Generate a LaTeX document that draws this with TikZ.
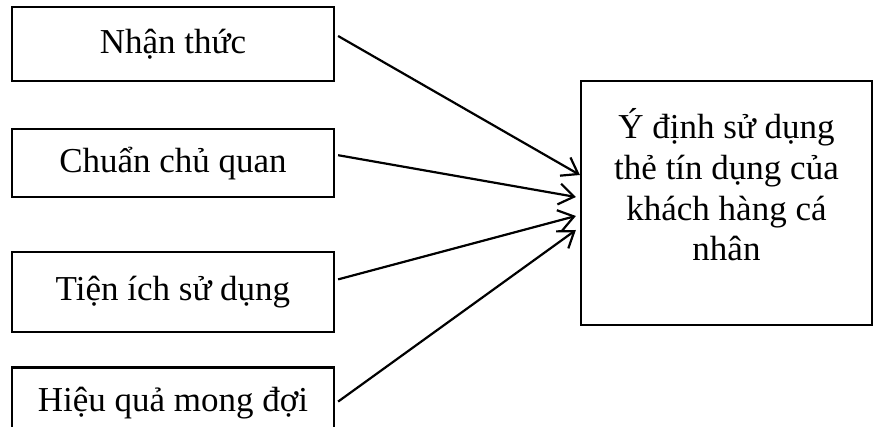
\documentclass[tikz,border=0pt]{standalone}
\usepackage{fontspec}
\setmainfont{Liberation Serif}
\usetikzlibrary{
  arrows.meta,
  positioning
}
\tikzset{
  factor/.style={draw,line width=1.1pt,minimum width=161pt,align=center,font=\fontsize{17.5}{20}\selectfont},
  intention/.style={draw,line width=1.1pt,minimum width=145.5pt,minimum height=122pt},
  intentiontext/.style={align=center,font=\fontsize{17.5}{20.3}\selectfont},
  effect/.style={-{Straight Barb[length=7.5pt,width=10.5pt,line width=1.1pt]},line width=1.1pt}
}

\begin{document}
\begin{tikzpicture}[x=0.5pt,y=-0.5pt]
\useasboundingbox (0,0) rectangle (874,427);

\node[factor, minimum height=37pt] (nt) at (173,44) {Nhận thức};
\node[factor, minimum height=34pt, below=23pt of nt] (ccq) {Chuẩn chủ quan};
\node[factor, minimum height=40pt, below=26.5pt of ccq] (tisd) {Tiện ích sử dụng};
\node[factor, minimum height=36pt, below=16.5pt of tisd] (hqmd) {Hiệu quả mong đợi};

\node[intention] (ydsd) at (726.5,203) {};
\node[intentiontext] (ydsdtext) at ([yshift=9pt]ydsd.center) {Ý định sử dụng\\thẻ tín dụng của\\khách hàng cá\\nhân};

\foreach \src/\dy/\dx/\ty in {nt/4/0/14, ccq/4/-2/3, tisd/6.5/-2/-6.5, hqmd/1/-2/-13.5}{
  \draw[effect] ([shift={(1.5pt,\dy pt)}]\src.east) -- ([shift={(\dx pt,\ty pt)}]ydsd.west);
}
\end{tikzpicture}
\end{document}
